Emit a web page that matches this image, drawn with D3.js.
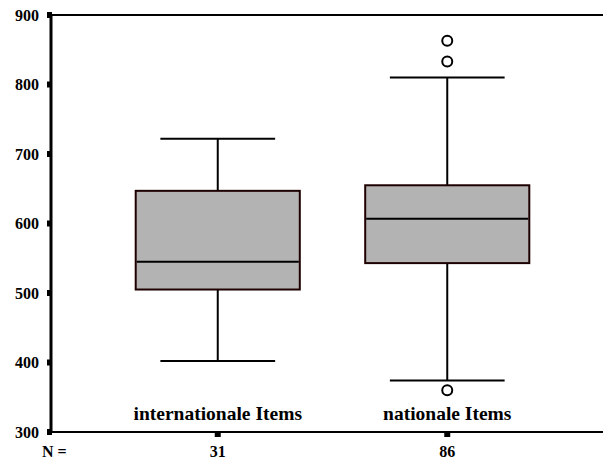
<!DOCTYPE html>
<html>
<head>
<meta charset="utf-8">
<script src="https://cdn.jsdelivr.net/npm/d3@7"></script>
<style>
  body { margin: 0; background: #fff; }
</style>
</head>
<body>
<div id="chart"></div>
<script>
// Data
const categories = ['internationale Items', 'nationale Items'];
const counts = [31, 86];
const whiskerLow = [402, 374];
const q1 = [505, 543];
const medians = [545, 607];
const q3 = [647, 655];
const whiskerHigh = [722, 810];
const outliers = [[], [863, 833, 360]];
const yTicks = [300, 400, 500, 600, 700, 800, 900];

const width = 603, height = 459;
const plotLeft = 51, plotTop = 15, plotBottom = 432;

const svg = d3.select('#chart').append('svg')
    .attr('width', width)
    .attr('height', height)
    .attr('font-family', "'Liberation Serif', 'Times New Roman', Times, serif")
    .attr('font-weight', 'bold');

const y = d3.scaleLinear().domain([300, 900]).range([plotBottom, plotTop]);
const x = d3.scaleBand().domain(categories).range([103, 562]).padding(0);
const boxW = x.bandwidth() * 0.715;
const capW = x.bandwidth() * 0.5;
const cx = c => x(c) + x.bandwidth() / 2;

const boxes = categories.map((c, i) => ({
    name: c, n: counts[i], lo: whiskerLow[i], q1: q1[i], med: medians[i],
    q3: q3[i], hi: whiskerHigh[i], out: outliers[i]
}));

// frame lines: top and bottom across
svg.append('line')
    .attr('x1', plotLeft).attr('x2', width).attr('y1', y(900)).attr('y2', y(900))
    .attr('stroke', '#000').attr('stroke-width', 2);
svg.append('line')
    .attr('x1', plotLeft).attr('x2', width).attr('y1', y(300)).attr('y2', y(300))
    .attr('stroke', '#000').attr('stroke-width', 2);

// y axis
svg.append('line')
    .attr('x1', plotLeft).attr('x2', plotLeft).attr('y1', y(900) - 1).attr('y2', y(300) + 1)
    .attr('stroke', '#000').attr('stroke-width', 3);

const yt = svg.append('g').selectAll('g')
    .data(yTicks).enter().append('g')
    .attr('transform', d => `translate(0,${y(d)})`);
yt.append('rect')
    .attr('x', plotLeft - 4).attr('y', -3).attr('width', 5).attr('height', 6)
    .attr('fill', '#000');
yt.append('text')
    .attr('x', 39).attr('dy', '0.35em')
    .attr('text-anchor', 'end')
    .attr('font-size', 16)
    .text(d => d);

// x ticks below baseline
svg.append('g').selectAll('rect')
    .data(categories).enter().append('rect')
    .attr('x', d => cx(d) - 3).attr('y', y(300)).attr('width', 6).attr('height', 5)
    .attr('fill', '#000');

const g = svg.append('g').selectAll('g')
    .data(boxes).enter().append('g');

// whiskers
g.append('line')
    .attr('x1', d => cx(d.name)).attr('x2', d => cx(d.name))
    .attr('y1', d => y(d.q3)).attr('y2', d => y(d.hi))
    .attr('stroke', '#000').attr('stroke-width', 2);
g.append('line')
    .attr('x1', d => cx(d.name)).attr('x2', d => cx(d.name))
    .attr('y1', d => y(d.q1)).attr('y2', d => y(d.lo))
    .attr('stroke', '#000').attr('stroke-width', 2);
g.append('line')
    .attr('x1', d => cx(d.name) - capW / 2).attr('x2', d => cx(d.name) + capW / 2)
    .attr('y1', d => y(d.hi)).attr('y2', d => y(d.hi))
    .attr('stroke', '#000').attr('stroke-width', 2);
g.append('line')
    .attr('x1', d => cx(d.name) - capW / 2).attr('x2', d => cx(d.name) + capW / 2)
    .attr('y1', d => y(d.lo)).attr('y2', d => y(d.lo))
    .attr('stroke', '#000').attr('stroke-width', 2);

// boxes
g.append('rect')
    .attr('x', d => cx(d.name) - boxW / 2)
    .attr('y', d => y(d.q3))
    .attr('width', boxW)
    .attr('height', d => y(d.q1) - y(d.q3))
    .attr('fill', '#b3b3b3')
    .attr('stroke', '#1e0000').attr('stroke-width', 2);
g.append('line')
    .attr('x1', d => cx(d.name) - boxW / 2 + 1).attr('x2', d => cx(d.name) + boxW / 2 - 1)
    .attr('y1', d => y(d.med)).attr('y2', d => y(d.med))
    .attr('stroke', '#000').attr('stroke-width', 2);

// outliers
g.selectAll('circle')
    .data(d => d.out.map(v => ({ name: d.name, v })))
    .enter().append('circle')
    .attr('cx', d => cx(d.name)).attr('cy', d => y(d.v)).attr('r', 5)
    .attr('fill', '#fff').attr('stroke', '#000').attr('stroke-width', 2);

// category labels
svg.append('g').selectAll('text')
    .data(categories).enter().append('text')
    .attr('x', d => cx(d)).attr('y', 420)
    .attr('text-anchor', 'middle')
    .attr('font-size', 19.5)
    .text(d => d);

// N labels
svg.append('text')
    .attr('x', 42).attr('y', 457)
    .attr('font-size', 16)
    .text('N =');
svg.append('g').selectAll('text')
    .data(boxes).enter().append('text')
    .attr('x', d => cx(d.name)).attr('y', 457)
    .attr('text-anchor', 'middle')
    .attr('font-size', 16)
    .text(d => d.n);
</script>
</body>
</html>
